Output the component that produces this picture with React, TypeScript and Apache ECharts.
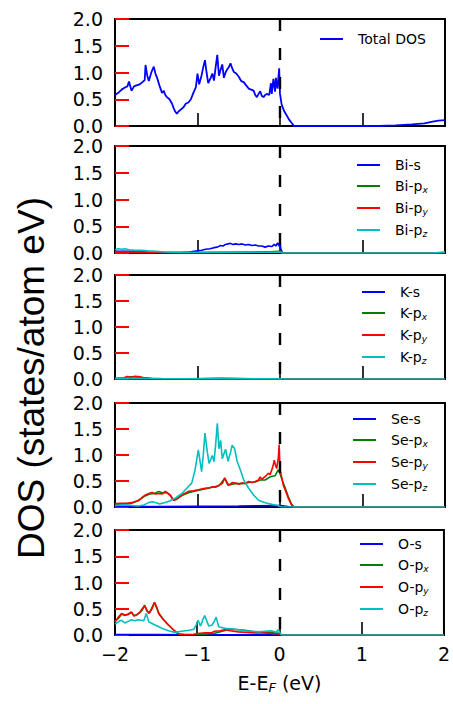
import React, { useEffect, useRef } from 'react';
import * as echarts from 'echarts';

// ---------- data (energy in eV, DOS in states/atom eV) ----------
const totalDos = [[-2.00,0.58],[-1.96,0.62],[-1.92,0.68],[-1.88,0.72],[-1.85,0.74],[-1.83,0.83],[-1.80,0.66],[-1.77,0.74],[-1.74,0.76],[-1.70,0.78],[-1.66,0.83],[-1.64,0.86],[-1.63,1.14],[-1.61,0.95],[-1.59,0.84],[-1.56,1.00],[-1.53,1.11],[-1.51,0.98],[-1.49,0.90],[-1.46,0.75],[-1.43,0.62],[-1.41,0.66],[-1.39,0.58],[-1.37,0.54],[-1.34,0.50],[-1.31,0.42],[-1.29,0.34],[-1.27,0.27],[-1.25,0.23],[-1.23,0.27],[-1.20,0.31],[-1.17,0.35],[-1.14,0.42],[-1.11,0.44],[-1.08,0.50],[-1.05,0.62],[-1.02,0.72],[-1.00,0.98],[-0.98,0.78],[-0.95,0.95],[-0.93,1.10],[-0.91,1.23],[-0.89,1.00],[-0.87,0.80],[-0.84,0.90],[-0.82,0.98],[-0.80,0.85],[-0.78,1.10],[-0.76,1.33],[-0.74,0.94],[-0.72,1.05],[-0.70,1.15],[-0.68,0.90],[-0.66,1.00],[-0.64,1.06],[-0.62,1.10],[-0.60,1.17],[-0.58,1.08],[-0.56,1.01],[-0.53,0.98],[-0.50,0.92],[-0.47,0.84],[-0.44,0.82],[-0.41,0.76],[-0.38,0.70],[-0.35,0.68],[-0.32,0.66],[-0.30,0.58],[-0.28,0.54],[-0.26,0.60],[-0.24,0.65],[-0.22,0.56],[-0.20,0.54],[-0.18,0.58],[-0.16,0.60],[-0.13,0.58],[-0.11,0.80],[-0.10,0.60],[-0.08,0.88],[-0.06,0.64],[-0.05,0.90],[-0.03,0.70],[-0.01,1.08],[0.00,0.60],[0.02,0.40],[0.05,0.28],[0.08,0.20],[0.11,0.12],[0.14,0.06],[0.17,0.00],[1.20,0.00],[1.40,0.01],[1.60,0.03],[1.75,0.05],[1.85,0.08],[1.92,0.10],[2.00,0.11]];

const biS = [[-2,0.03],[-1.8,0.03],[-1.6,0.02],[-1.4,0.01],[-1.2,0.01],[-1.1,0.02],[-1.0,0.04],[-0.95,0.05],[-0.9,0.07],[-0.85,0.08],[-0.8,0.10],[-0.76,0.11],[-0.72,0.14],[-0.69,0.13],[-0.66,0.16],[-0.63,0.17],[-0.6,0.18],[-0.57,0.16],[-0.54,0.17],[-0.5,0.16],[-0.46,0.17],[-0.42,0.15],[-0.38,0.16],[-0.34,0.14],[-0.3,0.15],[-0.26,0.13],[-0.22,0.13],[-0.18,0.11],[-0.14,0.13],[-0.1,0.12],[-0.07,0.16],[-0.05,0.13],[-0.03,0.19],[-0.01,0.13],[0.0,0.22],[0.01,0.08],[0.03,0.0],[2,0]];
const biPx = [[-2,0.02],[-1.9,0.025],[-1.8,0.02],[-1.6,0.015],[-1.4,0.01],[-1.0,0.01],[-0.6,0.015],[-0.2,0.02],[0,0.03],[0.03,0],[2,0]];
const biPy = [[-2,0.015],[-1.85,0.02],[-1.6,0.01],[-1.3,0.005],[-0.8,0.01],[-0.3,0.015],[0,0.02],[0.03,0],[2,0]];
const biPz = [[-2,0.06],[-1.96,0.08],[-1.92,0.07],[-1.88,0.08],[-1.83,0.06],[-1.76,0.05],[-1.68,0.05],[-1.6,0.04],[-1.5,0.03],[-1.4,0.02],[-1.2,0.01],[-0.6,0.01],[-0.2,0.015],[0,0.02],[0.03,0],[1.85,0],[1.95,0.015],[2,0.02]];

const kS = [[-2,0.005],[-1,0.003],[0,0.002],[0.05,0],[2,0]];
const kPx = [[-2,0.01],[-1.88,0.02],[-1.82,0.04],[-1.75,0.04],[-1.68,0.03],[-1.55,0.01],[-1.2,0.005],[-0.8,0.008],[-0.4,0.006],[0,0.003],[0.05,0],[2,0]];
const kPy = [[-2,0.01],[-1.9,0.02],[-1.85,0.05],[-1.81,0.03],[-1.76,0.05],[-1.72,0.045],[-1.66,0.03],[-1.58,0.015],[-1.4,0.006],[-1.0,0.005],[-0.7,0.012],[-0.5,0.01],[-0.3,0.006],[0,0.003],[0.05,0],[2,0]];
const kPz = [[-2,0.008],[-1.8,0.012],[-1.5,0.006],[-1.0,0.004],[0,0.002],[0.05,0],[2,0]];

const seS = [[-2,0.01],[-1.5,0.01],[-1,0.015],[-0.5,0.02],[0,0.03],[0.1,0.01],[0.17,0],[2,0]];
const sePx = [[-2,0.05],[-1.9,0.06],[-1.8,0.07],[-1.72,0.12],[-1.65,0.2],[-1.58,0.25],[-1.52,0.26],[-1.47,0.3],[-1.42,0.27],[-1.37,0.28],[-1.33,0.22],[-1.29,0.13],[-1.25,0.15],[-1.19,0.22],[-1.1,0.28],[-1.0,0.32],[-0.9,0.35],[-0.82,0.38],[-0.74,0.41],[-0.67,0.55],[-0.63,0.42],[-0.55,0.45],[-0.46,0.45],[-0.38,0.47],[-0.3,0.48],[-0.24,0.52],[-0.18,0.52],[-0.12,0.58],[-0.06,0.6],[-0.02,0.72],[0,0.64],[0.03,0.5],[0.06,0.38],[0.1,0.2],[0.14,0.05],[0.17,0],[2,0]];
const sePy = [[-2,0.06],[-1.94,0.07],[-1.85,0.07],[-1.78,0.09],[-1.71,0.13],[-1.66,0.2],[-1.63,0.23],[-1.59,0.26],[-1.55,0.28],[-1.51,0.25],[-1.47,0.26],[-1.43,0.25],[-1.39,0.3],[-1.36,0.26],[-1.33,0.23],[-1.29,0.13],[-1.25,0.16],[-1.19,0.23],[-1.11,0.3],[-1.05,0.31],[-0.99,0.33],[-0.91,0.36],[-0.85,0.37],[-0.82,0.39],[-0.78,0.38],[-0.74,0.42],[-0.7,0.45],[-0.67,0.56],[-0.64,0.46],[-0.62,0.42],[-0.58,0.47],[-0.54,0.46],[-0.5,0.44],[-0.46,0.46],[-0.42,0.45],[-0.38,0.49],[-0.34,0.47],[-0.3,0.49],[-0.26,0.52],[-0.24,0.58],[-0.22,0.53],[-0.2,0.56],[-0.17,0.6],[-0.14,0.65],[-0.12,0.62],[-0.1,0.71],[-0.08,0.82],[-0.07,0.9],[-0.05,0.78],[-0.04,0.74],[-0.02,0.95],[-0.01,1.2],[0,0.72],[0.02,0.58],[0.04,0.42],[0.07,0.3],[0.1,0.17],[0.14,0.04],[0.17,0],[2,0]];
const sePz = [[-2,0.03],[-1.9,0.04],[-1.8,0.03],[-1.72,0.02],[-1.65,0.04],[-1.6,0.08],[-1.55,0.1],[-1.5,0.08],[-1.46,0.06],[-1.4,0.08],[-1.33,0.12],[-1.26,0.18],[-1.19,0.26],[-1.13,0.36],[-1.07,0.46],[-1.03,0.71],[-0.99,1.10],[-0.95,0.68],[-0.93,1.0],[-0.91,1.42],[-0.88,1.05],[-0.86,0.84],[-0.82,0.99],[-0.8,0.87],[-0.78,1.2],[-0.76,1.61],[-0.74,1.12],[-0.72,1.28],[-0.70,0.93],[-0.66,1.11],[-0.63,0.88],[-0.6,1.05],[-0.58,1.19],[-0.55,1.12],[-0.52,0.88],[-0.48,0.71],[-0.44,0.52],[-0.38,0.36],[-0.32,0.23],[-0.26,0.13],[-0.18,0.08],[-0.1,0.05],[-0.03,0.03],[0.02,0],[2,0]];

const oS = [[-2,0.01],[-1.5,0.01],[-1,0.005],[0,0.005],[0.05,0],[2,0]];
const oPx = [[-2,0.26],[-1.95,0.33],[-1.92,0.4],[-1.88,0.37],[-1.84,0.39],[-1.8,0.43],[-1.77,0.37],[-1.74,0.38],[-1.7,0.42],[-1.67,0.47],[-1.64,0.57],[-1.61,0.45],[-1.58,0.42],[-1.55,0.52],[-1.52,0.62],[-1.49,0.5],[-1.46,0.4],[-1.41,0.29],[-1.35,0.19],[-1.29,0.1],[-1.23,0.02],[-1.15,0.005],[-1.0,0.01],[-0.8,0.03],[-0.65,0.09],[-0.58,0.11],[-0.5,0.1],[-0.42,0.09],[-0.34,0.07],[-0.26,0.06],[-0.18,0.05],[-0.1,0.05],[-0.04,0.04],[0,0.03],[0.03,0],[2,0]];
const oPy = [[-2,0.25],[-1.96,0.34],[-1.92,0.41],[-1.88,0.38],[-1.84,0.4],[-1.8,0.44],[-1.77,0.36],[-1.74,0.38],[-1.7,0.43],[-1.68,0.48],[-1.64,0.55],[-1.62,0.5],[-1.59,0.41],[-1.55,0.5],[-1.52,0.62],[-1.49,0.52],[-1.47,0.41],[-1.41,0.29],[-1.35,0.19],[-1.29,0.1],[-1.23,0.02],[-1.15,0.01],[-1.05,0.01],[-1.0,0.03],[-0.9,0.04],[-0.83,0.04],[-0.79,0.07],[-0.72,0.08],[-0.67,0.1],[-0.6,0.08],[-0.5,0.06],[-0.4,0.05],[-0.3,0.04],[-0.2,0.04],[-0.1,0.03],[0,0.02],[0.03,0],[2,0]];
const oPz = [[-2,0.21],[-1.95,0.26],[-1.92,0.28],[-1.88,0.23],[-1.84,0.26],[-1.8,0.29],[-1.76,0.27],[-1.72,0.29],[-1.68,0.28],[-1.65,0.27],[-1.62,0.41],[-1.59,0.25],[-1.55,0.22],[-1.5,0.18],[-1.43,0.13],[-1.35,0.08],[-1.27,0.05],[-1.19,0.07],[-1.1,0.09],[-1.04,0.11],[-1.01,0.2],[-0.99,0.28],[-0.96,0.17],[-0.93,0.3],[-0.91,0.37],[-0.88,0.25],[-0.86,0.17],[-0.82,0.19],[-0.79,0.27],[-0.77,0.34],[-0.74,0.16],[-0.7,0.14],[-0.66,0.13],[-0.6,0.12],[-0.54,0.11],[-0.48,0.1],[-0.42,0.08],[-0.34,0.07],[-0.26,0.06],[-0.18,0.07],[-0.1,0.08],[-0.06,0.06],[-0.04,0.05],[-0.02,0.1],[0,0.06],[0.02,0],[2,0]];

const fermiEnergy = 0;

const panelNames = [
  ['Total DOS'],
  ['Bi-s', 'Bi-px', 'Bi-py', 'Bi-pz'],
  ['K-s', 'K-px', 'K-py', 'K-pz'],
  ['Se-s', 'Se-px', 'Se-py', 'Se-pz'],
  ['O-s', 'O-px', 'O-py', 'O-pz'],
];
const panelData = [
  [totalDos],
  [biS, biPx, biPy, biPz],
  [kS, kPx, kPy, kPz],
  [seS, sePx, sePy, sePz],
  [oS, oPx, oPy, oPz],
];

// ---------- layout / style ----------
const COLORS = ['#0000ff', '#008000', '#ff0000', '#00bfbf'];
const gridTops = [19, 146, 275, 403, 530];
const gridHeights = [107, 107, 104, 104, 105];
const legendLefts = [320, 357, 362, 353, 360];
const legendTops = [32, 158, 285, 412, 537];
const FONT = 'DejaVu Sans';

const legendFormatter = (name: string) => {
  const m = name.match(/^(.*-p)([xyz])$/);
  if (m) return `{b|${m[1]}}{s|${m[2]}}`;
  return `{b|${name}}`;
};

const tickFmt = (v: number) => (v < 0 ? '\u2212' + Math.abs(v) : String(v));

export default function App() {
  const ref = useRef<HTMLDivElement>(null);
  useEffect(() => {
    if (!ref.current) return;
    const chart = echarts.init(ref.current, undefined, { renderer: 'svg' });

    const grid = gridTops.map((t, i) => ({
      left: 115, width: 330, top: t, height: gridHeights[i],
      show: true, borderColor: '#000', borderWidth: 2, backgroundColor: 'transparent',
    }));

    const xAxis = gridTops.map((_, i) => ({
      type: 'value', gridIndex: i, min: -2, max: 2, interval: 1,
      axisLine: { show: true, onZero: false, lineStyle: { color: '#000', width: 2 } },
      axisTick: { show: true, inside: true, length: 13, lineStyle: { color: '#000', width: 1.6 } },
      axisLabel: { show: i === 4, formatter: tickFmt, color: '#000', fontFamily: FONT, fontSize: 19, margin: 9 },
      splitLine: { show: false },
      ...(i === 4
        ? {
            name: '{a|E-E}{s|F}{a| (eV)}',
            nameLocation: 'middle',
            nameGap: 37,
            nameTextStyle: {
              rich: {
                a: { fontFamily: FONT, fontSize: 19, color: '#000', lineHeight: 22 },
                s: { fontFamily: FONT, fontSize: 13, fontStyle: 'italic', color: '#000', lineHeight: 12, verticalAlign: 'bottom' },
              },
            },
          }
        : {}),
    }));

    const yAxis = gridTops.map((_, i) => ({
      type: 'value', gridIndex: i, min: 0, max: 2, interval: 0.5,
      axisLine: { show: true, onZero: false, lineStyle: { color: '#000', width: 2 } },
      axisTick: { show: true, inside: true, length: 14, lineStyle: { color: '#ff0000', width: 2 } },
      axisLabel: { formatter: (v: number) => v.toFixed(1), color: '#000', fontFamily: FONT, fontSize: 19, margin: 12 },
      splitLine: { show: false },
    }));

    const series: any[] = [];
    panelData.forEach((list, i) => {
      list.forEach((d, j) => {
        const s: any = {
          type: 'line', name: panelNames[i][j], xAxisIndex: i, yAxisIndex: i,
          data: d, showSymbol: false, symbol: 'none',
          lineStyle: { color: COLORS[j], width: i === 0 ? 1.8 : 1.6 }, itemStyle: { color: COLORS[j] },
          silent: true,
        };
        if (j === list.length - 1) {
          s.markLine = {
            silent: true, symbol: ['none', 'none'], animation: false,
            label: { show: false },
            lineStyle: { color: '#000', width: 2.4, type: [12, 17] },
            data: [[{ coord: [fermiEnergy, 2] }, { coord: [fermiEnergy, 0] }]],
          };
        }
        series.push(s);
      });
    });

    const legend = panelNames.map((names, i) => ({
      data: names, orient: 'vertical', left: legendLefts[i], top: legendTops[i],
      itemWidth: 23, itemHeight: 2, itemGap: 7, icon: 'rect', padding: 0,
      selectedMode: false, formatter: legendFormatter,
      textStyle: {
        color: '#000', fontFamily: FONT, fontSize: 14,
        rich: {
          b: { fontFamily: FONT, fontSize: 14, color: '#000', lineHeight: 16, padding: [0, 0, 0, 10] },
          s: { fontFamily: FONT, fontSize: 9, fontStyle: 'italic', color: '#000', lineHeight: 6, verticalAlign: 'bottom' },
        },
      },
    }));

    chart.setOption({
      animation: false,
      backgroundColor: '#fff',
      grid, xAxis, yAxis, series, legend,
      graphic: [
        {
          type: 'text', x: 31, y: 378, rotation: Math.PI / 2,
          style: {
            text: 'DOS (states/atom eV)', fontFamily: 'Liberation Sans', fontSize: 37,
            fill: '#000', align: 'center', verticalAlign: 'middle',
          },
        },
      ],
    });
    return () => chart.dispose();
  }, []);
  return <div ref={ref} style={{ position: 'absolute', left: 0, top: 0, width: 453, height: 704 }} />;
}
